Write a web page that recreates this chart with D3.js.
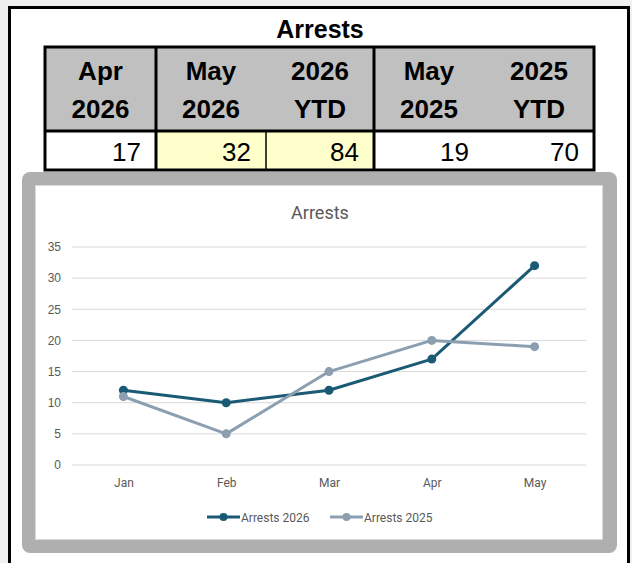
<!DOCTYPE html>
<html lang="en">
<head>
<meta charset="UTF-8">
<title>Arrests</title>
<script src="https://d3js.org/d3.v7.min.js"></script>
<style>
  html, body { margin: 0; padding: 0; background: #f0f0f0; }
  svg { display: block; }
</style>
</head>
<body>
<div id="chart"></div>
<script>
// Data
const months = ["Jan", "Feb", "Mar", "Apr", "May"];
const arrests2026 = [12, 10, 12, 17, 32];
const arrests2025 = [11, 5, 15, 20, 19];
const yTicks = [0, 5, 10, 15, 20, 25, 30, 35];
const seriesNames = ["Arrests 2026", "Arrests 2025"];
const tableHeaders = [["Apr", "2026"], ["May", "2026"], ["2026", "YTD"], ["May", "2025"], ["2025", "YTD"]];
const tableValues = [17, 32, 84, 19, 70];
const highlighted = [false, true, true, false, false];

const W = 632, H = 563;
const svg = d3.select("#chart").append("svg").attr("width", W).attr("height", H);

// outer white panel with black border
svg.append("rect").attr("x", 9.5).attr("y", 7.5).attr("width", 619).attr("height", 570)
  .attr("fill", "#fff").attr("stroke", "#000").attr("stroke-width", 3);

svg.append("text").attr("x", 320).attr("y", 38).attr("text-anchor", "middle")
  .attr("font-family", "Liberation Sans, Arial, sans-serif").attr("font-weight", "bold")
  .attr("font-size", 25).text("Arrests");

// Summary table
const colEdges = [45, 156, 266, 374, 484, 594];
const tTop = 47, hBottom = 131, tBottom = 170;
const table = svg.append("g").attr("font-family", "Liberation Sans, Arial, sans-serif");

table.append("rect").attr("x", colEdges[0]).attr("y", tTop).attr("width", colEdges[5] - colEdges[0])
  .attr("height", hBottom - tTop).attr("fill", "#c0c0c0");

tableValues.forEach((v, i) => {
  const x0 = colEdges[i], x1 = colEdges[i + 1];
  table.append("rect").attr("x", x0).attr("y", hBottom).attr("width", x1 - x0)
    .attr("height", tBottom - hBottom).attr("fill", highlighted[i] ? "#ffffcc" : "#fff");
  const cx = (x0 + x1) / 2;
  table.append("text").attr("x", cx).attr("y", 80).attr("text-anchor", "middle")
    .attr("font-weight", "bold").attr("font-size", 26).text(tableHeaders[i][0]);
  table.append("text").attr("x", cx).attr("y", 118).attr("text-anchor", "middle")
    .attr("font-weight", "bold").attr("font-size", 26).text(tableHeaders[i][1]);
  table.append("text").attr("x", x1 - 15).attr("y", 161).attr("text-anchor", "end")
    .attr("font-size", 26).text(v);
});

// borders
table.append("rect").attr("x", colEdges[0]).attr("y", tTop).attr("width", colEdges[5] - colEdges[0])
  .attr("height", tBottom - tTop).attr("fill", "none").attr("stroke", "#000").attr("stroke-width", 3);
table.append("line").attr("x1", colEdges[0]).attr("x2", colEdges[5]).attr("y1", hBottom).attr("y2", hBottom)
  .attr("stroke", "#000").attr("stroke-width", 3);
[1, 3].forEach(i => table.append("line").attr("x1", colEdges[i]).attr("x2", colEdges[i])
  .attr("y1", tTop).attr("y2", tBottom).attr("stroke", "#000").attr("stroke-width", 3));
table.append("line").attr("x1", colEdges[2]).attr("x2", colEdges[2])
  .attr("y1", hBottom).attr("y2", tBottom).attr("stroke", "#000").attr("stroke-width", 1.5);

// Chart frame
svg.append("rect").attr("x", 22).attr("y", 172).attr("width", 595).attr("height", 381)
  .attr("rx", 8).attr("fill", "#afafaf");
svg.append("rect").attr("x", 35.5).attr("y", 185.5).attr("width", 567).attr("height", 354)
  .attr("fill", "#fff").attr("stroke", "#d9d9d9").attr("stroke-width", 1);

const font = "Roboto, Liberation Sans, Arial, sans-serif";
svg.append("text").attr("x", 320).attr("y", 219).attr("text-anchor", "middle")
  .attr("font-family", font).attr("font-size", 18).attr("fill", "#595959").text("Arrests");

const x = d3.scalePoint().domain(months).range([72, 586]).padding(0.5);
const y = d3.scaleLinear().domain([0, 35]).range([465, 247]);

const grid = svg.append("g");
grid.selectAll("line").data(yTicks).join("line")
  .attr("x1", 72).attr("x2", 586).attr("y1", d => y(d)).attr("y2", d => y(d))
  .attr("stroke", "#d9d9d9").attr("stroke-width", 1);

const yAxis = svg.append("g").attr("transform", "translate(61,0)")
  .call(d3.axisLeft(y).tickValues(yTicks).tickSize(0).tickPadding(0));
yAxis.select(".domain").remove();
yAxis.selectAll("text").attr("font-family", "Liberation Sans, Arial, sans-serif")
  .attr("font-size", 12).attr("fill", "#595959");

const xAxis = svg.append("g").attr("transform", "translate(0,476)")
  .call(d3.axisBottom(x).tickSize(0).tickPadding(2));
xAxis.select(".domain").remove();
xAxis.selectAll("text").attr("font-family", font).attr("font-size", 12).attr("fill", "#595959");

const colors = ["#1b5a75", "#8c9fb0"];
const series = [arrests2026, arrests2025];
const line = d3.line().x((d, i) => x(months[i])).y(d => y(d));

[0, 1].forEach(s => {
  const g = svg.append("g");
  g.append("path").datum(series[s]).attr("d", line).attr("fill", "none")
    .attr("stroke", colors[s]).attr("stroke-width", 3).attr("stroke-linejoin", "round");
  g.selectAll("circle").data(series[s]).join("circle")
    .attr("cx", (d, i) => x(months[i])).attr("cy", d => y(d)).attr("r", 4.5)
    .attr("fill", colors[s]);
});

// Legend
const legendX = [207, 330];
const legendW = [33, 33];
seriesNames.forEach((name, s) => {
  const lg = svg.append("g").attr("transform", `translate(${legendX[s]},517)`);
  lg.append("line").attr("x1", 0).attr("x2", legendW[s]).attr("stroke", colors[s]).attr("stroke-width", 3);
  lg.append("circle").attr("cx", legendW[s] / 2).attr("r", 4).attr("fill", colors[s]);
  lg.append("text").attr("x", legendW[s] + 1).attr("y", 4.5).attr("font-family", font)
    .attr("font-size", 12).attr("fill", "#595959").text(name);
});
</script>
</body>
</html>
